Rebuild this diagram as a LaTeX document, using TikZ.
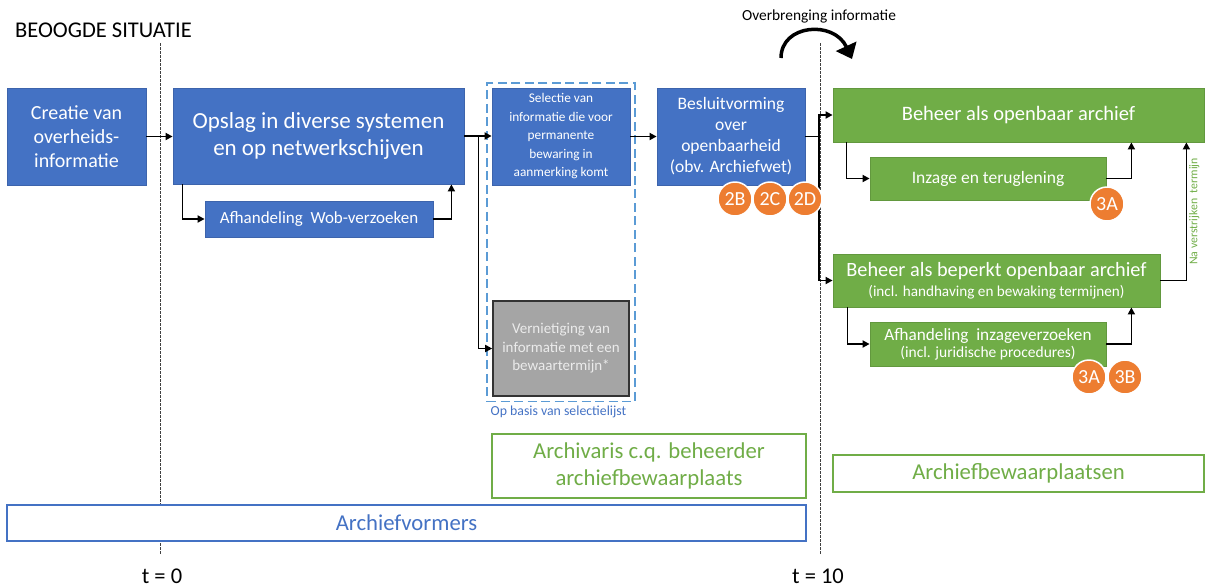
\documentclass[tikz,border=0pt]{standalone}
\usepackage{fontspec}
\setmainfont{Carlito}
\usetikzlibrary{arrows.meta, positioning, fit, calc}
\definecolor{procBlue}{RGB}{68,114,196}
\definecolor{procBlueLine}{RGB}{61,100,172}
\definecolor{procGreen}{RGB}{112,173,71}
\definecolor{procGreenLine}{RGB}{98,152,62}
\definecolor{procGray}{RGB}{165,165,165}
\definecolor{procGrayText}{RGB}{235,235,235}
\definecolor{badgeOrange}{RGB}{237,125,49}
\definecolor{selBlue}{RGB}{91,155,213}
\newcommand{\boxfont}[2]{\fontsize{#1}{#2}\selectfont}
\tikzset{
    schema/.style={>={Triangle[length=7pt,width=7pt]}, line join=miter},
    blueproc/.style={draw=procBlueLine, line width=0.8pt, fill=procBlue,
                     text=white, align=center, inner sep=2pt},
    greenproc/.style={draw=procGreenLine, line width=0.8pt, fill=procGreen,
                      text=white, align=center, inner sep=2pt},
    grayproc/.style={draw=black!80, line width=1.6pt, fill=procGray,
                     text=procGrayText, align=center, inner sep=2pt},
    rolebox/.style={fill=white, line width=1.2pt, align=center, inner sep=2pt},
    badge/.style={circle, fill=badgeOrange, draw=white, line width=1.5pt,
                  minimum size=34pt, inner sep=0pt, text=white,
                  font=\boxfont{20}{22}},
    arrow/.style={->, line width=1.7pt, draw=black},
    timeline/.style={draw=black!75, line width=0.8pt,
                     dash pattern=on 2.5pt off 1.5pt},
    selframe/.style={draw=selBlue, line width=1.3pt,
                     dash pattern=on 9pt off 4.5pt, inner sep=4.5pt},
    flowlabel/.style={text=procGreen, font=\boxfont{11.8}{14}, inner sep=2pt},
}

\begin{document}
\begin{tikzpicture}[schema, x=1pt, y=-1pt]
\useasboundingbox (0,0) rectangle (1213,587);

% ─── Titel en tijdlijn ──────────────────────────────────────────────────
\node[anchor=west, font=\boxfont{22.5}{26}, inner sep=0pt] (title) at (15,30) {BEOOGDE SITUATIE};

\coordinate (t0top) at (160,43);
\coordinate (t0bot) at (160,555);
\coordinate (t10top) at (820,43);
\coordinate (t10bot) at (820,555);
\draw[timeline] (t0top) -- (t0bot);
\draw[timeline] (t10top) -- (t10bot);
\node[font=\boxfont{22.5}{26}] (t0) at (162,576) {t = 0};
\node[font=\boxfont{22.5}{26}] (t10) at (818,576) {t = 10};

% ─── Archiefvormers ─────────────────────────────────────────────────────
\node[blueproc, minimum width=139pt, minimum height=97pt, font=\boxfont{20}{24}]
    (creatie) at (76.5,136.5) {Creatie van\\overheids-\\informatie};
\node[blueproc, minimum width=291pt, minimum height=96pt, font=\boxfont{23}{27.5}]
    (opslag) at (318.5,136) {Opslag in diverse systemen\\en op netwerkschijven};
\node[blueproc, minimum width=228pt, minimum height=36pt, font=\boxfont{17}{19}]
    (wob) at (319,219) {Afhandeling\ \ Wob-verzoeken};

\node[blueproc, minimum width=138pt, minimum height=97pt, font=\boxfont{13.3}{18.5}]
    (selectie) at (561,136.5) {Selectie van\\informatie die voor\\permanente\\bewaring in\\aanmerking komt};
\node[grayproc, minimum width=136pt, minimum height=95pt, font=\boxfont{15}{18.5}]
    (vernietiging) at (561,348.5) {Vernietiging van\\informatie met een\\bewaartermijn*};
\node[selframe, fit=(selectie)(vernietiging)] (selframe) {};
\node[anchor=north west, text=procBlue, font=\boxfont{13.8}{16}, inner sep=0pt]
    (sellabel) at ([xshift=4pt, yshift=-4pt]selframe.south west) {Op basis van selectielijst};

\node[blueproc, minimum width=148pt, minimum height=97pt, font=\boxfont{17.5}{21}]
    (besluit) at (731,136.5) {Besluitvorming\\over\\openbaarheid\\(obv. Archiefwet)};

% ─── Archiefbewaarplaatsen ──────────────────────────────────────────────
\node[greenproc, minimum width=371pt, minimum height=54pt, font=\boxfont{20.5}{23}]
    (openbaar) at (1018.5,115) {Beheer als openbaar archief};
\node[greenproc, minimum width=236pt, minimum height=43pt, font=\boxfont{17.5}{20}]
    (inzage) at (988,178.5) {Inzage en teruglening};
\node[greenproc, minimum width=327pt, minimum height=53pt, font=\boxfont{20.3}{22}]
    (beperkt) at (996.5,280.5) {Beheer als beperkt openbaar archief\\[-2pt]{\boxfont{15.2}{17}(incl. handhaving en bewaking termijnen)}};
\node[greenproc, minimum width=236pt, minimum height=44pt, font=\boxfont{17.2}{19}]
    (verzoeken) at (988,344) {Afhandeling\ \ inzageverzoeken\\[-2pt]{\boxfont{15.5}{17}(incl. juridische procedures)}};

% ─── Rollen ─────────────────────────────────────────────────────────────
\node[rolebox, draw=procGreen, text=procGreen, minimum width=314pt, minimum height=64pt,
      font=\boxfont{22.7}{27}] (archivaris) at (649,466) {Archivaris c.q. beheerder\\archiefbewaarplaats};
\node[rolebox, draw=procGreen, text=procGreen, minimum width=371pt, minimum height=37pt,
      font=\boxfont{22.7}{26}] (bewaarplaatsen) at (1018.5,473.5) {Archiefbewaarplaatsen};
\node[rolebox, draw=procBlue, text=procBlue, minimum width=799pt, minimum height=36pt,
      font=\boxfont{22.7}{26}] (vormers) at (406.5,523) {Archiefvormers};

% ─── Verbindingen ───────────────────────────────────────────────────────
\draw[arrow] (creatie.east) -- (creatie.east -| opslag.west);
\draw[arrow] ([xshift=10pt]opslag.south west) |- (wob.west);
\draw[arrow] (wob.east) -| ([xshift=-13pt]opslag.south east);
\draw[arrow] (opslag.east) -- (opslag.east -| selectie.west);
\draw[arrow] (opslag.east) -- ++(14,0) |- (vernietiging.west);
\draw[arrow] (selectie.east) -- (selectie.east -| besluit.west);

\coordinate (split) at (819,136.5);
\draw[line width=1.7pt] (besluit.east) -- (split);
\draw[arrow] (split) |- (openbaar.west);
\draw[arrow] (split) |- (beperkt.west);

\draw[arrow] ([xshift=14pt]openbaar.south west) |- (inzage.west);
\draw[arrow] (inzage.east) -| ([xshift=-73pt]openbaar.south east);
\draw[arrow] ([xshift=15pt]beperkt.south west) |- (verzoeken.west);
\draw[arrow] (verzoeken.east) -| ([xshift=-29pt]beperkt.south east);
\draw[arrow] (beperkt.east) -| node[flowlabel, pos=0.75, rotate=90, anchor=north]
    {Na verstrijken\ \ termijn} ([xshift=-18pt]openbaar.south east);

% ─── Overbrenging ───────────────────────────────────────────────────────
\node[font=\boxfont{15.4}{17}] (overbrenging) at (819,16) {Overbrenging informatie};
\coordinate (ovstart) at (781,58);
\coordinate (ovend) at (852,59);
\draw[line width=3.5pt, -{Triangle[length=14pt,width=22pt]}]
    (ovstart) .. controls (781,24) and (834,20) .. (ovend);

% ─── Nummers ────────────────────────────────────────────────────────────
\node[badge] (b2b) at (735,199) {2B};
\node[badge] (b2c) at (770,199) {2C};
\node[badge] (b2d) at (805,199) {2D};
\node[badge] (b3a) at (1107,204) {3A};
\node[badge] (b3ab) at (1089,377) {3A};
\node[badge] (b3b) at (1125,377) {3B};

\end{tikzpicture}
\end{document}
